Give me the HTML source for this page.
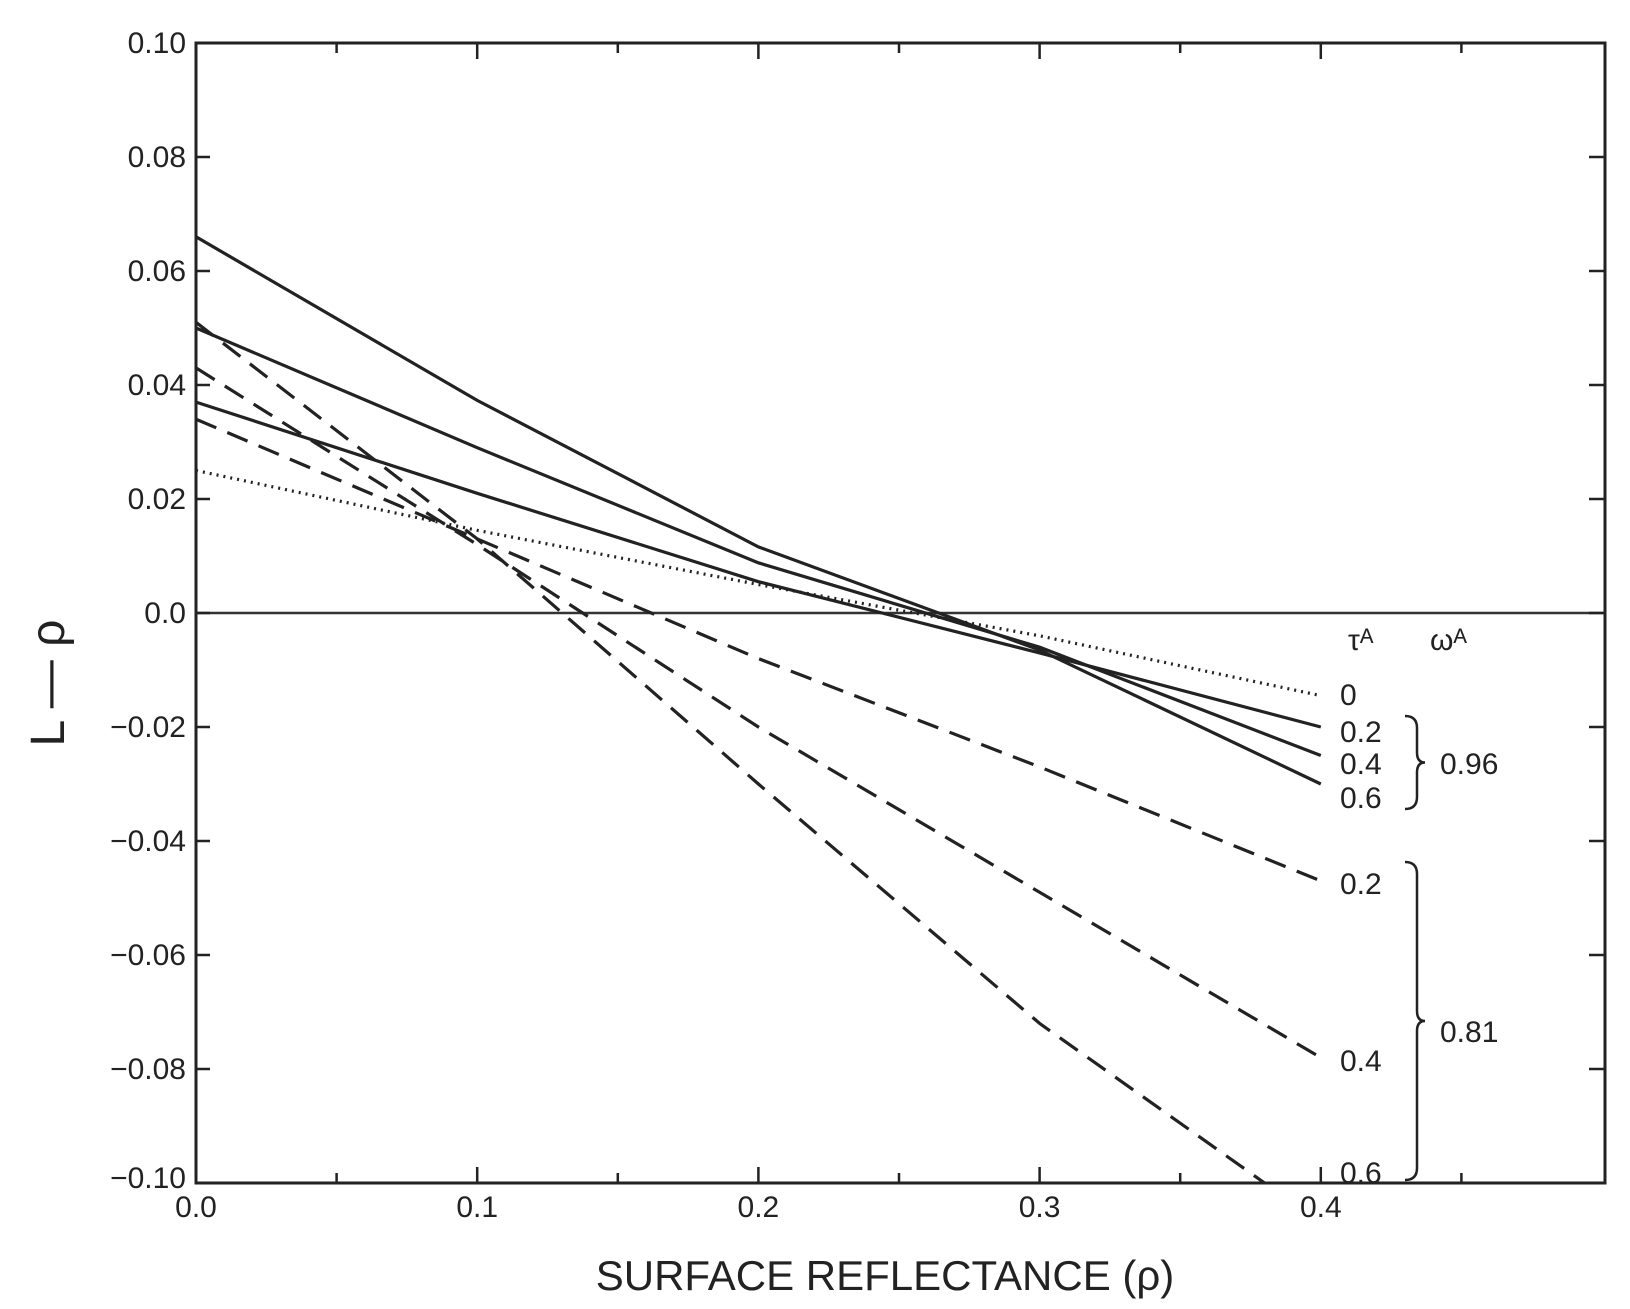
<!DOCTYPE html>
<html><head><meta charset="utf-8"><style>
html,body{margin:0;padding:0;background:#fff;}
svg{display:block;font-family:"Liberation Sans",sans-serif;}
</style></head><body>
<svg id="chart" width="1630" height="1309" viewBox="0 0 1630 1309">
<g id="axes"></g>
<g id="series"></g>
<g id="labels"></g>
</svg>
<script>
const xTicks=[0,0.1,0.2,0.3,0.4];
const xTickLabels=["0.0","0.1","0.2","0.3","0.4"];
const yTicks=[0.10,0.08,0.06,0.04,0.02,0,-0.02,-0.04,-0.06,-0.08,-0.10];
const yTickLabels=["0.10","0.08","0.06","0.04","0.02","0.0","\u22120.02","\u22120.04","\u22120.06","\u22120.08","\u22120.10"];
const xs=[0,0.1,0.2,0.3,0.4];
const dotted0=[0.025,0.0145,0.005,-0.004,-0.0145];
const solid02=[0.037,0.021,0.0055,-0.007,-0.020];
const solid04=[0.050,0.029,0.0088,-0.006,-0.025];
const solid06=[0.066,0.0373,0.0116,-0.0065,-0.030];
const dash02=[0.034,0.013,-0.008,-0.027,-0.047];
const dash04=[0.043,0.012,-0.020,-0.049,-0.078];
const dash06=[0.051,0.013,-0.030,-0.072,-0.107];
const tauLabels=["0","0.2","0.4","0.6","0.2","0.4","0.6"];

const L=196,T=43,R=1605,B=1183;
const X=v=>L+v*2812;
const Y=v=>T+(0.10-v)*5700;
const NS="http://www.w3.org/2000/svg";
function mk(tag,attrs,parent){const e=document.createElementNS(NS,tag);for(const k in attrs)e.setAttribute(k,attrs[k]);parent.appendChild(e);return e;}
const ax=document.getElementById('axes'),se=document.getElementById('series'),lb=document.getElementById('labels');

let fr=mk('rect',{x:L,y:T,width:R-L,height:B-T,fill:'none',stroke:'#222','stroke-width':3},ax);


let zl=mk('line',{x1:L,x2:R,y1:Y(0),y2:Y(0),stroke:'#333','stroke-width':2.5},ax);


for(let i=1;i<10;i++){const x=X(i*0.05);
 let t1=mk('line',{x1:x,x2:x,y1:B,y2:B-(i%2?10:16),stroke:'#222','stroke-width':2.5},ax);
 
 
 let t2=mk('line',{x1:x,x2:x,y1:T,y2:T+(i%2?10:16),stroke:'#222','stroke-width':2.5},ax);
 
 }
yTicks.forEach((v,i)=>{const y=Y(v);
 if(v<0.099&&v>-0.099){
 let t=mk('line',{x1:L,x2:L+14,y1:y,y2:y,stroke:'#222','stroke-width':2.5},ax);
 
 
 let t2=mk('line',{x1:R,x2:R-16,y1:y,y2:y,stroke:'#222','stroke-width':2.5},ax);
 
 }
 let tx=mk('text',{x:L-10,y:y+(i===yTicks.length-1?5:10),'text-anchor':'end','font-size':30,fill:'#222'},ax);
 tx.textContent=yTickLabels[i];
 
 });
xTicks.forEach((v,i)=>{
 let tx=mk('text',{x:X(v),y:B+34,'text-anchor':'middle','font-size':30,fill:'#222'},ax);
 tx.textContent=xTickLabels[i];
 
 });
let xt=mk('text',{x:885,y:1290,'text-anchor':'middle','font-size':42,fill:'#222'},ax);
xt.textContent="SURFACE REFLECTANCE (\u03c1)";


let yt=mk('text',{x:0,y:0,'text-anchor':'middle','font-size':48,fill:'#222',transform:'translate(64,683) rotate(-90)'},ax);
yt.textContent="L \u2014 \u03c1";



const series=[[dotted0,'2,5','dotted-tau-0'],[solid02,'','solid-tau-0.2'],[solid04,'','solid-tau-0.4'],[solid06,'','solid-tau-0.6'],[dash02,'22,12','dashed-tau-0.2'],[dash04,'22,12','dashed-tau-0.4'],[dash06,'22,12','dashed-tau-0.6']];
const clip=mk('clipPath',{id:'pc'},se);mk('rect',{x:L,y:T,width:R-L,height:B-T},clip);
series.forEach(s=>{
 const d=s[0].map((v,i)=>(i?'L':'M')+X(xs[i])+','+Y(v)).join(' ');
 const p=mk('path',{d:d,fill:'none',stroke:'#222','stroke-width':3.2,'clip-path':'url(#pc)'},se);
 if(s[1])p.setAttribute('stroke-dasharray',s[1]);
 
 });

const labY=[694,731,763,797,883,1060,1172];
tauLabels.forEach((t,i)=>{
 let tx=mk('text',{x:1340,y:labY[i]+11,'font-size':30,fill:'#222'},lb);
 tx.textContent=t;
 
 });
let ta=mk('text',{x:1348,y:650,'font-size':30,fill:'#222'},lb);ta.textContent="\u03c4\u1d2c";


let wa=mk('text',{x:1430,y:650,'font-size':30,fill:'#222'},lb);wa.textContent="\u03c9\u1d2c";


function brace(y1,y2,name){const ym=(y1+y2)/2,x=1405;
 const p=mk('path',{d:`M${x},${y1} Q${x+12},${y1} ${x+12},${y1+12} L${x+12},${ym-10} Q${x+12},${ym} ${x+20},${ym} Q${x+12},${ym} ${x+12},${ym+10} L${x+12},${y2-12} Q${x+12},${y2} ${x},${y2}`,fill:'none',stroke:'#222','stroke-width':2.5},lb);
 
 }
brace(716,809,'brace-096');brace(862,1180,'brace-081');
let o1=mk('text',{x:1440,y:774,'font-size':30,fill:'#222'},lb);o1.textContent="0.96";


let o2=mk('text',{x:1440,y:1042,'font-size':30,fill:'#222'},lb);o2.textContent="0.81";


</script>
</body></html>
